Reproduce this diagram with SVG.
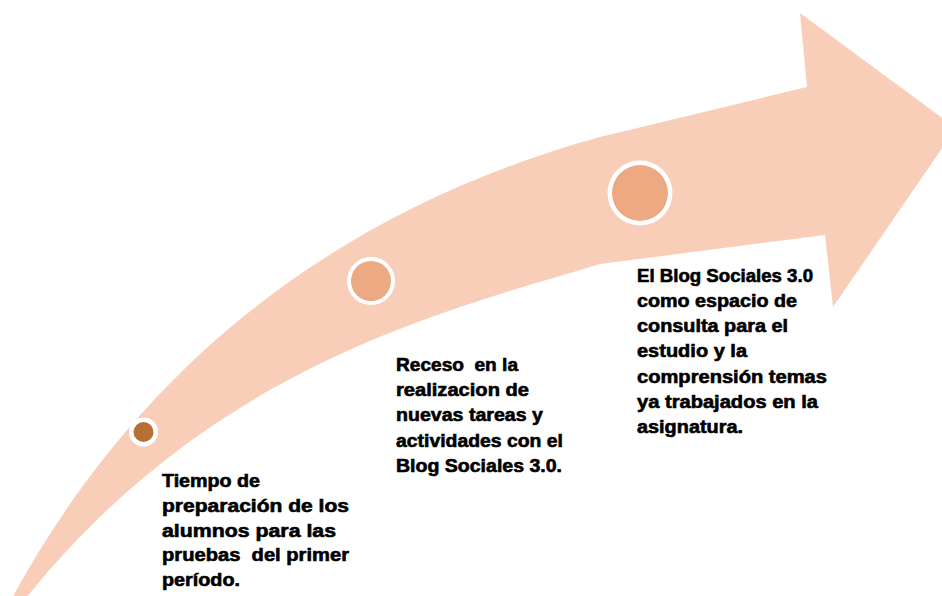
<svg xmlns="http://www.w3.org/2000/svg" width="942" height="596" viewBox="0 0 942 596">
<style>
.arrow{fill:#F9CEB9;}
.ring{fill:#FFFFFF;}
.dot1{fill:#B66F35;}
.dot{fill:#EDA982;}
.lbl{font-family:"Liberation Sans",Arial,sans-serif;font-weight:bold;font-size:18px;fill:#000000;stroke:#000000;stroke-width:0.6;white-space:pre;}
</style>
<rect x="0" y="0" width="942" height="596" fill="#FFFFFF"/>
<g id="arrow">
<path class="arrow" d="M12,598 C120,400 300,220 600,137 L807,87 L800,13 L956,128 L833,307 L825,235 L600,264 C430,315 210,370 26,598 Z"/>
</g>
<g id="step1">
<circle class="ring" cx="143.5" cy="432" r="14.5"/>
<circle class="dot1" cx="143.5" cy="432" r="10"/>
<text class="lbl" x="162" y="487" textLength="98" lengthAdjust="spacingAndGlyphs">Tiempo de</text>
<text class="lbl" x="162" y="512" textLength="187" lengthAdjust="spacingAndGlyphs">preparación de los</text>
<text class="lbl" x="162" y="537" textLength="174" lengthAdjust="spacingAndGlyphs">alumnos para las</text>
<text class="lbl" x="162" y="561" textLength="187" lengthAdjust="spacingAndGlyphs" xml:space="preserve">pruebas  del primer</text>
<text class="lbl" x="162" y="586" textLength="78" lengthAdjust="spacingAndGlyphs">período.</text>
</g>
<g id="step2">
<circle class="ring" cx="371" cy="281" r="24"/>
<circle class="dot" cx="371" cy="281" r="20"/>
<text class="lbl" x="396" y="371" textLength="122" lengthAdjust="spacingAndGlyphs" xml:space="preserve">Receso  en la</text>
<text class="lbl" x="396" y="396" textLength="133" lengthAdjust="spacingAndGlyphs">realizacion de</text>
<text class="lbl" x="396" y="421" textLength="147" lengthAdjust="spacingAndGlyphs">nuevas tareas y</text>
<text class="lbl" x="396" y="447" textLength="167" lengthAdjust="spacingAndGlyphs">actividades con el</text>
<text class="lbl" x="396" y="472" textLength="166" lengthAdjust="spacingAndGlyphs">Blog Sociales 3.0.</text>
</g>
<g id="step3">
<circle class="ring" cx="640" cy="193" r="32.5"/>
<circle class="dot" cx="640" cy="193" r="28"/>
<text class="lbl" x="637" y="282" textLength="176" lengthAdjust="spacingAndGlyphs">El Blog Sociales 3.0</text>
<text class="lbl" x="637" y="307" textLength="160" lengthAdjust="spacingAndGlyphs">como espacio de</text>
<text class="lbl" x="637" y="332" textLength="151" lengthAdjust="spacingAndGlyphs">consulta para el</text>
<text class="lbl" x="637" y="357" textLength="110" lengthAdjust="spacingAndGlyphs">estudio y la</text>
<text class="lbl" x="637" y="383" textLength="190" lengthAdjust="spacingAndGlyphs">comprensión temas</text>
<text class="lbl" x="637" y="408" textLength="181" lengthAdjust="spacingAndGlyphs">ya trabajados en la</text>
<text class="lbl" x="637" y="433" textLength="106" lengthAdjust="spacingAndGlyphs">asignatura.</text>
</g>
</svg>
